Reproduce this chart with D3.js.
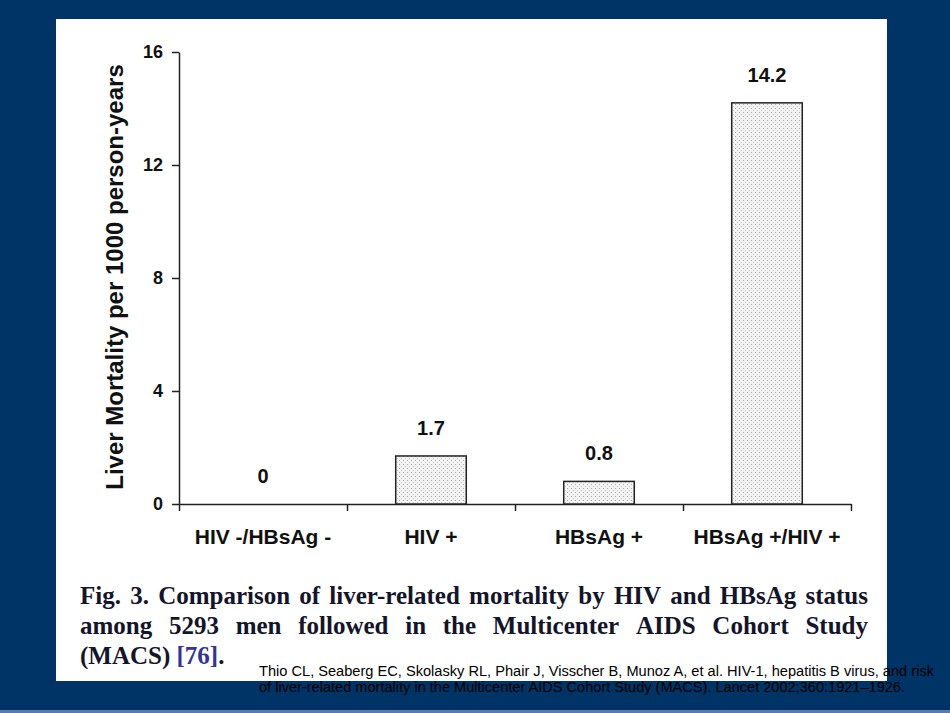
<!doctype html>
<html>
  <head>
    <script src="https://cdnjs.cloudflare.com/ajax/libs/d3/7.8.5/d3.min.js"></script>
    <style>
      body { margin: 0; background: #003366; }
      svg { display: block; }
      .axis path, .axis line { stroke: #222; stroke-width: 1.5; }
      .axis text { font-family: "Liberation Sans", Arial, sans-serif; font-weight: bold; fill: #111; }
      rect.bar { fill: url(#dots); stroke: #222; stroke-width: 1.5; }
      text.value { font-family: "Liberation Sans", Arial, sans-serif; font-weight: bold; font-size: 20px; fill: #111; }
      text.ytitle { font-family: "Liberation Sans", Arial, sans-serif; font-weight: bold; font-size: 24px; fill: #111; }
      text.caption { font-family: "Liberation Serif", "Times New Roman", serif; font-weight: bold; font-size: 25px; fill: #14142a; }
      text.cite { font-family: "Liberation Sans", Arial, sans-serif; font-size: 14px; fill: #000; }
    </style>
  </head>
  <body>
    <svg width="950" height="713"></svg>
    <script>
      var categories = ["HIV -/HBsAg -", "HIV +", "HBsAg +", "HBsAg +/HIV +"];
      var mortality = [0, 1.7, 0.8, 14.2];
      var valueLabels = ["0", "1.7", "0.8", "14.2"];
      var yTicks = [0, 4, 8, 12, 16];
      var yTitle = "Liver Mortality per 1000 person-years";
      var captionLines = [
        "Fig. 3.  Comparison of liver-related mortality by HIV and HBsAg status",
        "among 5293 men followed in the Multicenter AIDS Cohort Study"
      ];
      var citeLines = [
        "Thio CL, Seaberg EC, Skolasky RL, Phair J, Visscher B, Munoz A, et al. HIV-1, hepatitis B virus, and risk",
        "of liver-related mortality in the Multicenter AIDS Cohort Study (MACS). Lancet 2002;360:1921\u20131926."
      ];

      var svg = d3.select("svg");

      // slide background + white panel
      svg.append("rect").attr("width", 950).attr("height", 713).attr("fill", "#003366");
      svg.append("rect").attr("x", 0).attr("y", 710).attr("width", 950).attr("height", 3).attr("fill", "#5a7aa8");
      svg.append("rect").attr("x", 56).attr("y", 19).attr("width", 831).attr("height", 662).attr("fill", "#fff");

      // stipple pattern for bars
      var pat = svg.append("defs").append("pattern")
          .attr("id", "dots")
          .attr("patternUnits", "userSpaceOnUse")
          .attr("width", 4).attr("height", 4);
      pat.append("rect").attr("width", 4).attr("height", 4).attr("fill", "#f3f3f3");
      pat.append("rect").attr("x", 0).attr("y", 0).attr("width", 1).attr("height", 1).attr("fill", "#a8a8a8");
      pat.append("rect").attr("x", 2).attr("y", 2).attr("width", 1).attr("height", 1).attr("fill", "#c8c8c8");

      var margin = {left: 179, top: 52},
          width = 672, height = 452;

      var g = svg.append("g").attr("transform", "translate(" + margin.left + "," + margin.top + ")");

      var x = d3.scaleBand().domain(categories).range([0, width]);
      var xb = d3.scaleLinear().domain([0, categories.length]).range([0, width]);
      var y = d3.scaleLinear().domain([0, 16]).range([height, 0]);

      // y axis
      var yAxis = g.append("g").attr("class", "axis")
          .call(d3.axisLeft(y).tickValues(yTicks).tickSize(7).tickSizeOuter(0).tickPadding(9));
      yAxis.selectAll("text").style("font-size", "18px");

      // x axis: boundary ticks + category labels
      g.append("g").attr("class", "axis")
          .attr("transform", "translate(0," + height + ")")
          .call(d3.axisBottom(xb).ticks(categories.length).tickFormat("").tickSize(7).tickSizeOuter(0));

      var xAxis = g.append("g").attr("class", "axis")
          .attr("transform", "translate(0," + height + ")")
          .call(d3.axisBottom(x).tickSize(0).tickPadding(25));
      xAxis.select(".domain").remove();
      xAxis.selectAll("text").style("font-size", "21px");

      // bars
      var barW = x.bandwidth() * 0.42;
      g.selectAll("rect.bar")
        .data(mortality)
        .enter()
        .append("rect")
          .attr("class", "bar")
          .attr("x", (d, i) => x(categories[i]) + (x.bandwidth() - barW) / 2)
          .attr("y", d => y(d))
          .attr("width", barW)
          .attr("height", d => height - y(d))
          .style("display", d => d > 0 ? null : "none");

      g.selectAll("text.value")
        .data(mortality)
        .enter()
        .append("text")
          .attr("class", "value")
          .attr("text-anchor", "middle")
          .attr("x", (d, i) => x(categories[i]) + x.bandwidth() / 2)
          .attr("y", d => y(d) - 21)
          .text((d, i) => valueLabels[i]);

      // y title
      svg.append("text")
          .attr("class", "ytitle")
          .attr("text-anchor", "middle")
          .attr("transform", "translate(123,277) rotate(-90)")
          .text(yTitle);

      // justified caption lines
      var capLeft = 80, capRight = 868;
      captionLines.forEach((line, li) => {
        var words = line.split(/\s+/);
        var ty = 604 + li * 30;
        var nodes = words.map(w => svg.append("text").attr("class", "caption").attr("y", ty).text(w));
        var widths = nodes.map(n => n.node().getComputedTextLength());
        var gap = (capRight - capLeft - d3.sum(widths)) / (words.length - 1);
        var cx = capLeft;
        nodes.forEach((n, i) => { n.attr("x", cx); cx += widths[i] + gap; });
      });
      var last = svg.append("text").attr("class", "caption").attr("x", capLeft).attr("y", 664);
      last.append("tspan").text("(MACS) ");
      last.append("tspan").attr("fill", "#333399").text("[76]");
      last.append("tspan").text(".");

      // citation
      svg.selectAll("text.cite")
        .data(citeLines)
        .enter()
        .append("text")
          .attr("class", "cite")
          .attr("x", 259)
          .attr("y", (d, i) => 676 + i * 16)
          .attr("textLength", (d, i) => i === 0 ? 675 : 646)
          .attr("lengthAdjust", "spacingAndGlyphs")
          .text(d => d);
    </script>
  </body>
</html>
